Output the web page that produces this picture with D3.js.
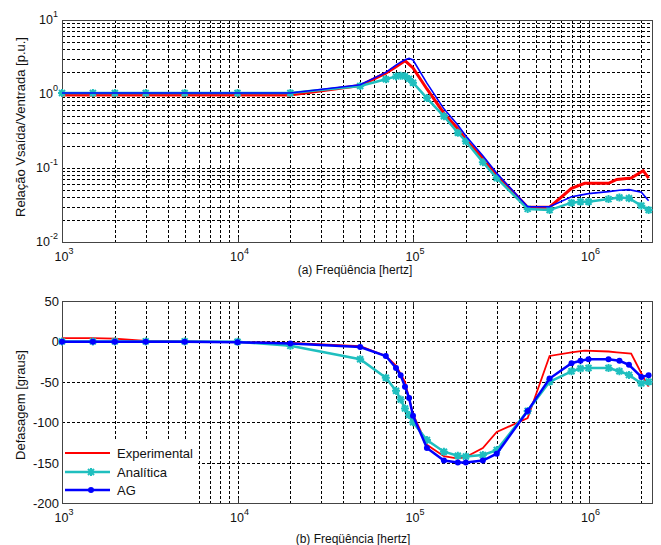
<!DOCTYPE html>
<html>
<head>
<meta charset="utf-8">
<script src="https://cdn.jsdelivr.net/npm/d3@7"></script>
<style>
  body { margin: 0; background: #fff; }
  text { font-family: Arial, "Liberation Sans", Helvetica, sans-serif; fill: #111; }
</style>
</head>
<body>
<div id="chart"></div>
<script>
// frequencies used by the analytic and GA models [Hz]
var freq = [1e3, 1.5e3, 2e3, 3e3, 5e3, 1e4, 2e4, 5e4, 7e4, 8e4, 8.5e4, 9e4, 9.5e4, 1e5,
            1.2e5, 1.5e5, 1.8e5, 2e5, 2.5e5, 3e5, 4.5e5, 6e5, 8e5, 9e5, 1e6, 1.3e6,
            1.5e6, 1.7e6, 2e6, 2.2e6];
// measured frequencies
var freqExp = [1e3, 1.5e3, 2e3, 3e3, 5e3, 1e4, 2e4, 5e4, 7e4, 8e4, 9e4, 1e5, 1.2e5, 1.5e5,
               1.8e5, 2e5, 2.5e5, 3e5, 4.5e5, 6e5, 8e5, 9.5e5, 1.3e6, 1.45e6, 1.75e6, 2.05e6, 2.2e6];

// (a) magnitude ratio [p.u.]
var magExp = [0.97, 0.97, 0.97, 0.97, 0.97, 0.97, 0.97, 1.3, 1.91, 2.34, 2.82, 2.25, 1.17, 0.55,
              0.34, 0.24, 0.135, 0.081, 0.0295, 0.0295, 0.053, 0.062, 0.062, 0.07, 0.073, 0.092, 0.073];
var magAnalitica = [1.03, 1.03, 1.03, 1.03, 1.03, 1.03, 1.03, 1.28, 1.58, 1.73, 1.77, 1.74, 1.6, 1.42,
                    0.88, 0.5, 0.3, 0.23, 0.12, 0.073, 0.028, 0.027, 0.034, 0.035, 0.035, 0.038,
                    0.040, 0.039, 0.031, 0.027];
var magAG = [1.03, 1.03, 1.03, 1.03, 1.03, 1.03, 1.03, 1.33, 1.96, 2.45, 2.7, 2.9, 3.03, 2.88,
             1.4, 0.63, 0.38, 0.27, 0.146, 0.085, 0.030, 0.030, 0.041, 0.043, 0.045, 0.048,
             0.050, 0.051, 0.047, 0.036];

// (b) phase shift [degrees]
var phaseExp = [4, 4, 3.5, 0.5, 0, -1, -2, -6, -18, -30, -50, -90, -128, -142,
                -145, -143, -132, -112, -95, -18, -13.5, -11.5, -12.5, -13.5, -15, -44, -56];
var phaseAnalitica = [0, 0, 0, 0, 0, -0.5, -5.5, -22, -45, -61, -72, -83, -91, -100,
                      -122, -136.5, -141.5, -142.5, -140.5, -134.5, -86, -50, -37, -33.5, -33,
                      -33, -37, -41.5, -52, -50];
var phaseAG = [-0.5, -0.5, -0.5, -0.5, -0.5, -1, -2.5, -7, -18, -33, -42, -56, -70, -92,
               -132, -147.5, -150, -150, -147.5, -139, -86, -46, -27, -24, -22,
               -22, -24, -29, -44, -42];

var xDecades = [3, 4, 5, 6];
var magDecades = [-2, -1, 0, 1];
var phaseTicks = [-200, -150, -100, -50, 0, 50];
var legendNames = ["Experimental", "Analítica", "AG"];

var colExp = "#ff0000", colAn = "#1fbfbf", colAG = "#0000ff";

var width = 661, height = 545;
var left = 62, right = 652;
var topA = 20, botA = 242, topB = 301, botB = 503;

var svg = d3.select("#chart")
  .append("svg")
    .attr("width", width)
    .attr("height", height);

svg.append("rect").attr("width", width).attr("height", height).attr("fill", "#fff");

var x = d3.scaleLog().domain([1e3, 2.3e6]).range([left, right]);
var yA = d3.scaleLog().domain([1e-2, 1e1]).range([botA, topA]);
var yB = d3.scaleLinear().domain([-200, 50]).range([botB, topB]);

// minor + major positions on the log axis
function logGrid(decades, lo, hi) {
  var out = [];
  decades.forEach(function(e) {
    for (var m = 1; m <= 9; m++) {
      var v = m * Math.pow(10, e);
      if (v > lo * 1.0001 && v < hi * 0.9999) out.push(v);
    }
  });
  return out;
}

var xGrid = logGrid(xDecades, 1e3, 2.3e6);

function drawPanel(y, yGrid, yTop, yBot) {
  var g = svg.append("g");

  // dashed grid
  g.selectAll(".gx").data(xGrid).enter().append("line")
    .attr("x1", function(d) { return Math.round(x(d)) + 0.5; })
    .attr("x2", function(d) { return Math.round(x(d)) + 0.5; })
    .attr("y1", yTop).attr("y2", yBot)
    .attr("stroke", "#000").attr("stroke-width", 1)
    .attr("stroke-dasharray", "3,2")
    .attr("shape-rendering", "crispEdges");

  g.selectAll(".gy").data(yGrid).enter().append("line")
    .attr("y1", function(d) { return Math.round(y(d)) + 0.5; })
    .attr("y2", function(d) { return Math.round(y(d)) + 0.5; })
    .attr("x1", left).attr("x2", right)
    .attr("stroke", "#000").attr("stroke-width", 1)
    .attr("stroke-dasharray", "3,2")
    .attr("shape-rendering", "crispEdges");

  // inward ticks on x
  xDecades.forEach(function(e) {
    var px = Math.round(x(Math.pow(10, e))) + 0.5;
    g.append("line").attr("x1", px).attr("x2", px).attr("y1", yBot).attr("y2", yBot - 5)
      .attr("stroke", "#333").attr("shape-rendering", "crispEdges");
    g.append("line").attr("x1", px).attr("x2", px).attr("y1", yTop).attr("y2", yTop + 5)
      .attr("stroke", "#333").attr("shape-rendering", "crispEdges");
  });

  // box
  g.append("rect")
    .attr("x", left + 0.5).attr("y", yTop + 0.5)
    .attr("width", right - left).attr("height", yBot - yTop)
    .attr("fill", "none").attr("stroke", "#444").attr("stroke-width", 1)
    .attr("shape-rendering", "crispEdges");

  // x tick labels 10^n
  xDecades.forEach(function(e) {
    var t = g.append("text")
      .attr("x", x(Math.pow(10, e)) + 2)
      .attr("y", yBot + 19)
      .attr("text-anchor", "middle")
      .style("font-size", "12.5px");
    t.append("tspan").text("10");
    t.append("tspan").attr("dy", -7).style("font-size", "9px").text(e);
  });
  return g;
}

// ---- (a) magnitude ----
var gA = drawPanel(yA, logGrid(magDecades, 1e-2, 1e1), topA, botA);

magDecades.forEach(function(e) {
  var t = gA.append("text")
    .attr("x", 58)
    .attr("y", yA(Math.pow(10, e)) + 4)
    .attr("text-anchor", "end")
    .style("font-size", "12.5px");
  t.append("tspan").text("10");
  t.append("tspan").attr("dy", -7).style("font-size", "9px").text(e);
});

var lineA = d3.line()
  .x(function(d) { return x(d[0]); })
  .y(function(d) { return yA(d[1]); });

gA.append("path")
  .datum(d3.zip(freqExp, magExp))
  .attr("d", lineA)
  .attr("fill", "none").attr("stroke", colExp).attr("stroke-width", 3);

gA.append("path")
  .datum(d3.zip(freq, magAnalitica))
  .attr("d", lineA)
  .attr("fill", "none").attr("stroke", colAn).attr("stroke-width", 2.5);

var star = "M-4,0L4,0M0,-4L0,4M-3,-3L3,3M-3,3L3,-3";

gA.selectAll(".sa").data(d3.zip(freq, magAnalitica)).enter().append("path")
  .attr("transform", function(d) { return "translate(" + x(d[0]) + "," + yA(d[1]) + ")"; })
  .attr("d", star)
  .attr("stroke", colAn).attr("stroke-width", 2).attr("fill", "none");

gA.append("path")
  .datum(d3.zip(freq, magAG))
  .attr("d", lineA)
  .attr("fill", "none").attr("stroke", colAG).attr("stroke-width", 1.6);

svg.append("text")
  .attr("x", 355).attr("y", 274)
  .attr("text-anchor", "middle")
  .style("font-size", "12px")
  .text("(a) Freqüência [hertz]");

svg.append("text")
  .attr("transform", "translate(25," + 127 + ") rotate(-90)")
  .attr("text-anchor", "middle")
  .style("font-size", "13px")
  .text("Relação Vsaída/Ventrada [p.u.]");

// ---- (b) phase ----
var gB = drawPanel(yB, phaseTicks.slice(1, -1), topB, botB);

phaseTicks.forEach(function(v) {
  gB.append("text")
    .attr("x", 59)
    .attr("y", yB(v) + 5)
    .attr("text-anchor", "end")
    .style("font-size", "13px")
    .text(v);
});

var lineB = d3.line()
  .x(function(d) { return x(d[0]); })
  .y(function(d) { return yB(d[1]); });

gB.append("path")
  .datum(d3.zip(freqExp, phaseExp))
  .attr("d", lineB)
  .attr("fill", "none").attr("stroke", colExp).attr("stroke-width", 1.8);

gB.append("path")
  .datum(d3.zip(freq, phaseAnalitica))
  .attr("d", lineB)
  .attr("fill", "none").attr("stroke", colAn).attr("stroke-width", 2.5);

gB.selectAll(".sb").data(d3.zip(freq, phaseAnalitica)).enter().append("path")
  .attr("transform", function(d) { return "translate(" + x(d[0]) + "," + yB(d[1]) + ")"; })
  .attr("d", star)
  .attr("stroke", colAn).attr("stroke-width", 2).attr("fill", "none");

gB.append("path")
  .datum(d3.zip(freq, phaseAG))
  .attr("d", lineB)
  .attr("fill", "none").attr("stroke", colAG).attr("stroke-width", 2.5);

gB.selectAll(".db").data(d3.zip(freq, phaseAG)).enter().append("circle")
  .attr("cx", function(d) { return x(d[0]); })
  .attr("cy", function(d) { return yB(d[1]); })
  .attr("r", 3)
  .attr("fill", colAG);

// legend (white box, no border)
var leg = gB.append("g");
leg.append("rect")
  .attr("x", left + 1).attr("y", 441)
  .attr("width", 135).attr("height", botB - 441)
  .attr("fill", "#fff");

var legY = [453, 472, 490];
var legCol = [colExp, colAn, colAG];
legendNames.forEach(function(name, i) {
  leg.append("line")
    .attr("x1", 65).attr("x2", 110)
    .attr("y1", legY[i]).attr("y2", legY[i])
    .attr("stroke", legCol[i]).attr("stroke-width", i === 0 ? 2 : 2.5);
  if (i === 1) {
    leg.append("path").attr("transform", "translate(91," + legY[i] + ")")
      .attr("d", star).attr("stroke", colAn).attr("stroke-width", 2).attr("fill", "none");
  }
  if (i === 2) {
    leg.append("circle").attr("cx", 91).attr("cy", legY[i]).attr("r", 3).attr("fill", colAG);
  }
  leg.append("text")
    .attr("x", 117).attr("y", legY[i] + 5)
    .style("font-size", "13px")
    .text(name);
});

svg.append("text")
  .attr("x", 353).attr("y", 543)
  .attr("text-anchor", "middle")
  .style("font-size", "12px")
  .text("(b) Freqüência [hertz]");

svg.append("text")
  .attr("transform", "translate(25," + 405 + ") rotate(-90)")
  .attr("text-anchor", "middle")
  .style("font-size", "13px")
  .text("Defasagem [graus]");
</script>
</body>
</html>
